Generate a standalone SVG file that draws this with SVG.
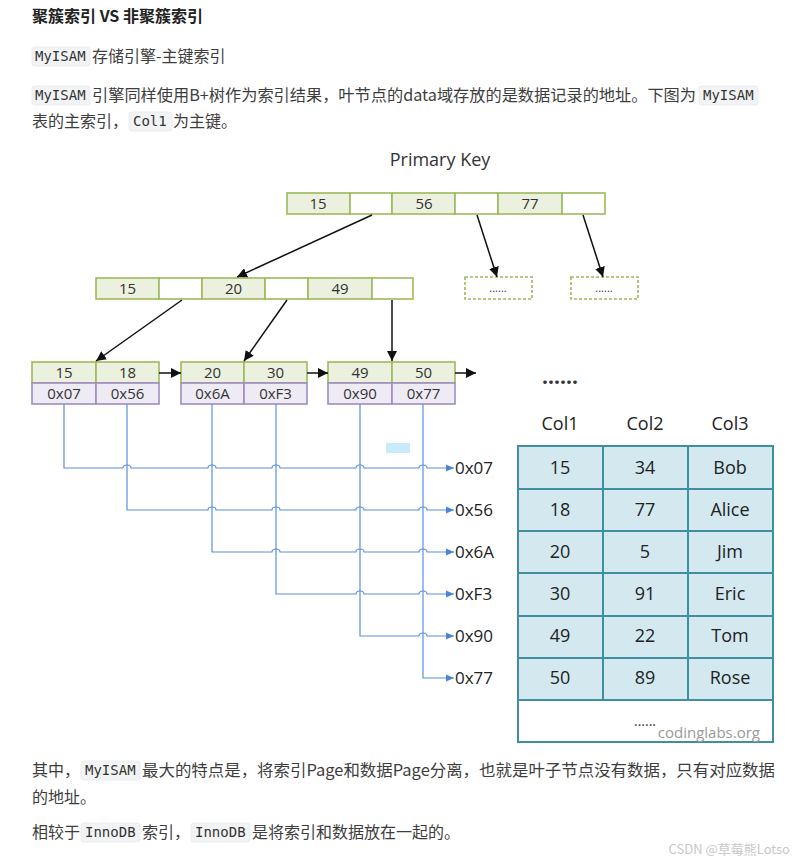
<svg xmlns="http://www.w3.org/2000/svg" width="795" height="863" viewBox="0 0 795 863">
<style>
.body{font-family:"Noto Sans CJK SC","Noto Sans",sans-serif;font-size:16px;fill:#3d3d3d}
.title{font-family:"Noto Sans CJK SC","Noto Sans",sans-serif;font-size:16px;font-weight:bold;fill:#222}
.code{font-family:"DejaVu Sans Mono","Liberation Mono",monospace;font-size:14px;fill:#333}
.codebg{fill:#f2f3f5;stroke:#e6e8eb;stroke-width:0.8}
.dg{font-family:"Open Sans","Noto Sans",sans-serif;fill:#333;text-anchor:middle}
.n{font-size:15px}
.g{fill:#ebf1de;stroke:#9bbb59;stroke-width:1.6}
.w{fill:#fff;stroke:#9bbb59;stroke-width:1.6}
.p{fill:#efebf5;stroke:#a08cc2;stroke-width:1.6}
.dash{fill:#fff;stroke:#9bbb59;stroke-width:1.6;stroke-dasharray:3 2}
.blk{stroke:#111;stroke-width:1.5;fill:none}
.blu{stroke:#5a8fdb;stroke-width:1.2;fill:none}
.tc{fill:#d3e9ef;stroke:#3f8fa1;stroke-width:2}
.tt{font-size:18px;fill:#222}
.addr{font-family:"Open Sans","Noto Sans",sans-serif;font-size:17px;fill:#222}
</style>
<defs>
<marker id="ah" markerWidth="10" markerHeight="10" refX="10" refY="5" orient="auto" markerUnits="userSpaceOnUse" viewBox="0 0 10 10"><path d="M0,0 L10,5 L0,10 z" fill="#111"/></marker>
<marker id="bh" markerWidth="8" markerHeight="8" refX="8" refY="4" orient="auto" markerUnits="userSpaceOnUse" viewBox="0 0 8 8"><path d="M0,0.5 L8,4 L0,7.5 z" fill="#4a84d8"/></marker>
</defs>
<rect width="795" height="863" fill="#fff"/>

<g id="text-top">
<text class="title" x="32" y="22">聚簇索引 VS 非聚簇索引</text>
<rect class="codebg" x="32" y="47" width="58" height="19" rx="3"/>
<text class="code" x="35" y="61">MyISAM</text>
<text class="body" x="92" y="62">存储引擎-主键索引</text>
<rect class="codebg" x="32" y="86" width="58" height="19" rx="3"/>
<text class="code" x="35" y="100">MyISAM</text>
<text class="body" x="92" y="101" textLength="604" lengthAdjust="spacingAndGlyphs">引擎同样使用B+树作为索引结果，叶节点的data域存放的是数据记录的地址。下图为</text>
<rect class="codebg" x="699" y="86" width="59" height="19" rx="3"/>
<text class="code" x="703" y="100">MyISAM</text>
<text class="body" x="32" y="127">表的主索引，</text>
<rect class="codebg" x="129" y="112" width="43" height="19" rx="3"/>
<text class="code" x="133" y="126">Col1</text>
<text class="body" x="173" y="127">为主键。</text>
</g>

<text class="dg" x="440" y="166" font-size="18">Primary Key</text>

<g id="root">
<rect class="g" x="287" y="193" width="63" height="21"/>
<rect class="w" x="350" y="193" width="42" height="21"/>
<rect class="g" x="392" y="193" width="63" height="21"/>
<rect class="w" x="455" y="193" width="43" height="21"/>
<rect class="g" x="498" y="193" width="64" height="21"/>
<rect class="w" x="562" y="193" width="43" height="21"/>
<text class="dg n" x="318" y="209">15</text>
<text class="dg n" x="424" y="209">56</text>
<text class="dg n" x="530" y="209">77</text>
</g>

<g id="mid">
<rect class="g" x="96" y="278" width="63" height="21"/>
<rect class="w" x="159" y="278" width="43" height="21"/>
<rect class="g" x="202" y="278" width="63" height="21"/>
<rect class="w" x="265" y="278" width="43" height="21"/>
<rect class="g" x="308" y="278" width="64" height="21"/>
<rect class="w" x="372" y="278" width="41" height="21"/>
<text class="dg n" x="127.5" y="294">15</text>
<text class="dg n" x="233.5" y="294">20</text>
<text class="dg n" x="340" y="294">49</text>
</g>

<g id="more1">
<rect class="dash" x="465" y="277" width="67" height="22"/>
<text class="dg" x="498" y="292" font-size="11">......</text>
</g>
<g id="more2">
<rect class="dash" x="571" y="277" width="67" height="22"/>
<text class="dg" x="604" y="292" font-size="11">......</text>
</g>

<g id="leaf1">
<rect class="g" x="32" y="362" width="64" height="21"/>
<rect class="g" x="96" y="362" width="63" height="21"/>
<rect class="p" x="32" y="383" width="64" height="21"/>
<rect class="p" x="96" y="383" width="63" height="21"/>
<text class="dg n" x="64" y="378">15</text>
<text class="dg n" x="127.5" y="378">18</text>
<text class="dg n" x="64" y="399">0x07</text>
<text class="dg n" x="127.5" y="399">0x56</text>
</g>
<g id="leaf2">
<rect class="g" x="181" y="362" width="63" height="21"/>
<rect class="g" x="244" y="362" width="63" height="21"/>
<rect class="p" x="181" y="383" width="63" height="21"/>
<rect class="p" x="244" y="383" width="63" height="21"/>
<text class="dg n" x="212.5" y="378">20</text>
<text class="dg n" x="275.5" y="378">30</text>
<text class="dg n" x="212.5" y="399">0x6A</text>
<text class="dg n" x="275.5" y="399">0xF3</text>
</g>
<g id="leaf3">
<rect class="g" x="328" y="362" width="64" height="21"/>
<rect class="g" x="392" y="362" width="63" height="21"/>
<rect class="p" x="328" y="383" width="64" height="21"/>
<rect class="p" x="392" y="383" width="63" height="21"/>
<text class="dg n" x="360" y="378">49</text>
<text class="dg n" x="423.5" y="378">50</text>
<text class="dg n" x="360" y="399">0x90</text>
<text class="dg n" x="423.5" y="399">0x77</text>
</g>

<text class="dg" x="560" y="384" font-size="21" font-weight="bold" fill="#111">......</text>

<g id="connectors">
<line class="blk" x1="372" y1="215" x2="237" y2="277" marker-end="url(#ah)"/>
<line class="blk" x1="477" y1="215" x2="497" y2="277" marker-end="url(#ah)"/>
<line class="blk" x1="583" y1="215" x2="603" y2="277" marker-end="url(#ah)"/>
<line class="blk" x1="182" y1="300" x2="96" y2="361" marker-end="url(#ah)"/>
<line class="blk" x1="287" y1="300" x2="244" y2="361" marker-end="url(#ah)"/>
<line class="blk" x1="392" y1="300" x2="392" y2="361" marker-end="url(#ah)"/>
<line class="blk" x1="159" y1="373" x2="181" y2="373" marker-end="url(#ah)"/>
<line class="blk" x1="307" y1="373" x2="328" y2="373" marker-end="url(#ah)"/>
<line class="blk" x1="455" y1="373" x2="476" y2="373" marker-end="url(#ah)"/>

<path class="blu" marker-end="url(#bh)" d="M64,404 V468 H123 a4,3 0 0 1 8,0 H208 a4,3 0 0 1 8,0 H272 a4,3 0 0 1 8,0 H356 a4,3 0 0 1 8,0 H419 a4,3 0 0 1 8,0 H454"/>
<path class="blu" marker-end="url(#bh)" d="M127,404 V510 H208 a4,3 0 0 1 8,0 H272 a4,3 0 0 1 8,0 H356 a4,3 0 0 1 8,0 H419 a4,3 0 0 1 8,0 H454"/>
<path class="blu" marker-end="url(#bh)" d="M212,404 V552 H272 a4,3 0 0 1 8,0 H356 a4,3 0 0 1 8,0 H419 a4,3 0 0 1 8,0 H454"/>
<path class="blu" marker-end="url(#bh)" d="M276,404 V594 H356 a4,3 0 0 1 8,0 H419 a4,3 0 0 1 8,0 H454"/>
<path class="blu" marker-end="url(#bh)" d="M360,404 V636 H419 a4,3 0 0 1 8,0 H454"/>
<path class="blu" marker-end="url(#bh)" d="M423,404 V678 H454"/>
</g>

<rect x="386" y="443" width="24" height="10" fill="#c8ecf9"/>

<g id="addr-labels">
<text class="addr" x="455" y="474">0x07</text>
<text class="addr" x="455" y="516">0x56</text>
<text class="addr" x="455" y="558">0x6A</text>
<text class="addr" x="455" y="600">0xF3</text>
<text class="addr" x="455" y="642">0x90</text>
<text class="addr" x="455" y="684">0x77</text>
</g>

<g id="table">
<text class="dg tt" x="560" y="430">Col1</text>
<text class="dg tt" x="645" y="430">Col2</text>
<text class="dg tt" x="730" y="430">Col3</text>
<rect class="tc" x="518" y="446" width="85" height="43"/>
<rect class="tc" x="603" y="446" width="85" height="43"/>
<rect class="tc" x="688" y="446" width="85" height="43"/>
<rect class="tc" x="518" y="489" width="85" height="42"/>
<rect class="tc" x="603" y="489" width="85" height="42"/>
<rect class="tc" x="688" y="489" width="85" height="42"/>
<rect class="tc" x="518" y="531" width="85" height="42"/>
<rect class="tc" x="603" y="531" width="85" height="42"/>
<rect class="tc" x="688" y="531" width="85" height="42"/>
<rect class="tc" x="518" y="573" width="85" height="43"/>
<rect class="tc" x="603" y="573" width="85" height="43"/>
<rect class="tc" x="688" y="573" width="85" height="43"/>
<rect class="tc" x="518" y="616" width="85" height="42"/>
<rect class="tc" x="603" y="616" width="85" height="42"/>
<rect class="tc" x="688" y="616" width="85" height="42"/>
<rect class="tc" x="518" y="658" width="85" height="42"/>
<rect class="tc" x="603" y="658" width="85" height="42"/>
<rect class="tc" x="688" y="658" width="85" height="42"/>
<rect x="518" y="700" width="255" height="42" fill="#fff" stroke="#3f8fa1" stroke-width="2"/>
<text class="dg tt" x="560" y="474">15</text><text class="dg tt" x="645" y="474">34</text><text class="dg tt" x="730" y="474">Bob</text>
<text class="dg tt" x="560" y="516">18</text><text class="dg tt" x="645" y="516">77</text><text class="dg tt" x="730" y="516">Alice</text>
<text class="dg tt" x="560" y="558">20</text><text class="dg tt" x="645" y="558">5</text><text class="dg tt" x="730" y="558">Jim</text>
<text class="dg tt" x="560" y="600">30</text><text class="dg tt" x="645" y="600">91</text><text class="dg tt" x="730" y="600">Eric</text>
<text class="dg tt" x="560" y="642">49</text><text class="dg tt" x="645" y="642">22</text><text class="dg tt" x="730" y="642">Tom</text>
<text class="dg tt" x="560" y="684">50</text><text class="dg tt" x="645" y="684">89</text><text class="dg tt" x="730" y="684">Rose</text>
<text class="dg" x="645" y="726" font-size="14">......</text>
<text x="760" y="738" font-family="'Open Sans','Noto Sans',sans-serif" font-size="15" fill="#9a9a9a" text-anchor="end">codinglabs.org</text>
</g>

<g id="text-bottom">
<text class="body" x="32" y="776">其中，</text>
<rect class="codebg" x="81" y="761" width="59" height="19" rx="3"/>
<text class="code" x="85" y="775">MyISAM</text>
<text class="body" x="142" y="776" textLength="633" lengthAdjust="spacingAndGlyphs">最大的特点是，将索引Page和数据Page分离，也就是叶子节点没有数据，只有对应数据</text>
<text class="body" x="32" y="803">的地址。</text>
<text class="body" x="32" y="838">相较于</text>
<rect class="codebg" x="81" y="823" width="59" height="19" rx="3"/>
<text class="code" x="85" y="837">InnoDB</text>
<text class="body" x="142" y="838">索引，</text>
<rect class="codebg" x="191" y="823" width="59" height="19" rx="3"/>
<text class="code" x="195" y="837">InnoDB</text>
<text class="body" x="252" y="838">是将索引和数据放在一起的。</text>
<text x="790" y="854" font-family="'Noto Sans CJK SC','Noto Sans',sans-serif" font-size="13" fill="#c8c8c8" text-anchor="end">CSDN @草莓熊Lotso</text>
</g>
</svg>
